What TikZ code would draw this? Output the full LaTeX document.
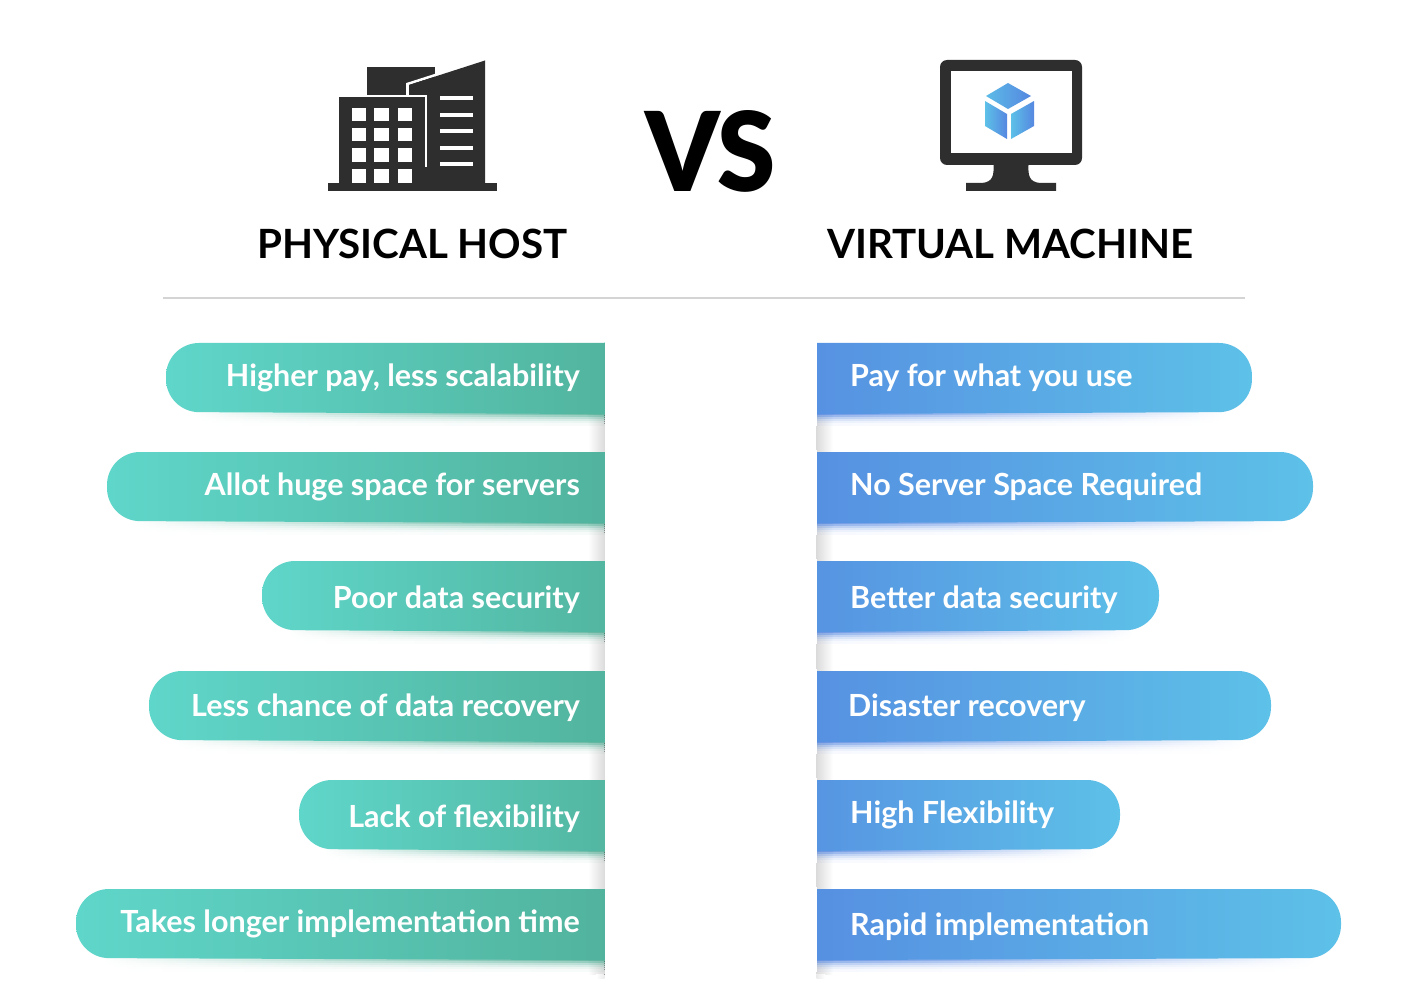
\documentclass[tikz,border=0pt]{standalone}
\usepackage{fontspec}
\setmainfont{Lato}
\newfontfamily\vsfont{Lato Black}
\definecolor{tealL}{HTML}{5FD6CA}
\definecolor{tealR}{HTML}{4FAD95}
\definecolor{blueL}{HTML}{5587E0}
\definecolor{blueR}{HTML}{5DC1E8}
\definecolor{icon}{HTML}{2E2E2E}
\colorlet{sidegray}{black!14}
\tikzset{
  barL/.style={left color=tealL,right color=tealR,draw=none},
  barR/.style={left color=blueL,right color=blueR,draw=none},
  barlabel/.style={text=white,font=\fontsize{30.5}{36}\selectfont\bfseries,inner sep=0pt},
  title/.style={text=black,font=\fontsize{40.3}{48}\selectfont\bfseries,inner sep=0pt},
  win/.style={fill=white,draw=none},
}
% #1 left x, #2 top y, #3 name, #4 label, #5 label baseline y
\newcommand{\lside}[1]{\fill[left color=white,right color=sidegray] (588,#1+82) rectangle (604.5,#1+109);}
\newcommand{\rside}[1]{\fill[right color=white,left color=sidegray] (816.5,#1+82) rectangle (833,#1+109);}
\newcommand{\lbar}[5]{%
  \foreach \oo/\kk in {68/95,70/85,72/62,74/40,76/24,78/12,80/5} {
    \fill[left color=white,right color=tealR!\kk!white] (#1+25,#2+\oo) rectangle (604.5,#2+\oo+2.2);
    \fill[left color=tealR!\kk!white,right color=tealR!\kk!sidegray] (588,#2+\oo) rectangle (604.5,#2+\oo+2.2);
  }
  \path[barL,rounded corners=33pt] (700,#2) -- (#1,#2) -- (#1,#2+69) -- (700,#2+71.5) -- cycle;
  \fill[white] (604.5,#2-2) rectangle (720,#2+83);
  \node[barlabel,anchor=base east] (#3) at (580,#5) {#4};
}
\newcommand{\rbar}[5]{%
  \foreach \oo/\kk in {68/95,70/85,72/62,74/40,76/24,78/12,80/5} {
    \fill[right color=white,left color=blueL!\kk!white] (816.5,#2+\oo) rectangle (#1-25,#2+\oo+2.2);
    \fill[right color=blueL!\kk!white,left color=blueL!\kk!sidegray] (816.5,#2+\oo) rectangle (833,#2+\oo+2.2);
  }
  \path[barR,rounded corners=33pt] (720,#2) -- (#1,#2) -- (#1,#2+69) -- (720,#2+71.5) -- cycle;
  \fill[white] (700,#2-2) rectangle (816.5,#2+83);
  \node[barlabel,anchor=base west] (#3) at (850,#5) {#4};
}
\begin{document}
\begin{tikzpicture}[x=1pt,y=-1pt]
\useasboundingbox (0,0) rectangle (1417,1000);
\fill[white] (0,0) rectangle (1417,1000);
% building
\fill[icon] (367,67) rectangle (435,95);
\draw[white,line width=2.6pt] (407.5,97) -- (407.5,84) -- (445,72);
\fill[icon] (409,96) -- (409,85) -- (485,60.5) -- (485,183) -- (425,183) -- (425,96) -- cycle;
\fill[icon] (339,97) rectangle (425,183);
\fill[icon] (328,183) rectangle (497,191);
\draw[white,line width=2.4pt] (339,96) -- (426.2,96) -- (426.2,167);
\foreach \xa/\xb in {352/366,374/389,398/412}
  \foreach \ya/\yb in {108/121,128/141,148/162,169/183}
    \fill[win] (\xa,\ya) rectangle (\xb,\yb);
\foreach \yy in {98,115,131,148,164}
  \fill[win] (440,\yy-2) rectangle (473,\yy+2);
% VS
\node[inner sep=0pt,anchor=base,text=black,font=\fontsize{110}{120}\selectfont\vsfont,xscale=0.955,transform shape] (vs) at (710.5,192) {VS};
% monitor
\fill[icon,rounded corners=7pt] (940,60) rectangle (1082,165);
\fill[white] (951,71) rectangle (1072,153);
\fill[icon] (993.5,165) .. controls (994,175) and (993,182) .. (982,183) -- (966,183) -- (966,191) -- (1056,191) -- (1056,183) -- (1040,183) .. controls (1029,182) and (1028,175) .. (1028.5,165) -- cycle;
\path[left color=blueR!90!blueL,right color=blueL] (1008,83) -- (1031,96) -- (1008,109) -- (986,96) -- cycle;
\path[left color=blueR,right color=blueL] (985,101) -- (1007,114) -- (1007,139) -- (985,126) -- cycle;
\path[left color=blueR,right color=blueL] (1011,114) -- (1034,101) -- (1034,126) -- (1011,139) -- cycle;
% titles
\node[title,anchor=base] (phys) at (412.5,259) {PHYSICAL HOST};
\node[title,anchor=base] (virt) at (1010.5,259) {VIRTUAL MACHINE};
\draw[black!17,line width=2pt] (163,298) -- (1245,298);
% thin ticks at top of the strip
\draw[tealL!40,line width=0.8pt] (604,342.5) -- (620,342.5);
\draw[blueR!40,line width=0.8pt] (801,342.5) -- (817,342.5);
% side shadows
\foreach \yy in {343,452,561,671,780} {\lside{\yy}\rside{\yy}}
\fill[left color=white,right color=black!14] (588,971) rectangle (604.5,974);
\fill[left color=white,right color=black!8] (596,974) rectangle (604.5,978);
\fill[right color=white,left color=black!14] (816.5,971) rectangle (833,974);
\fill[right color=white,left color=black!8] (816.5,974) rectangle (825,978);
% bars
\lbar{166}{343}{l1}{Higher pay, less scalability}{387}
\lbar{107}{452}{l2}{Allot huge space for servers}{495}
\lbar{262}{561}{l3}{Poor data security}{608}
\lbar{149}{671}{l4}{Less chance of data recovery}{716}
\lbar{299}{780}{l5}{Lack of flexibility}{827}
\lbar{76}{889}{l6}{Takes longer implementation time}{932}
\rbar{1252}{343}{r1}{\addfontfeature{LetterSpace=-0.4}Pay for what you use}{387}
\rbar{1313}{452}{r2}{No Server Space Required}{495}
\rbar{1159}{561}{r3}{Better data security}{608}
\rbar{1271}{671}{r4}{\kern-2pt Disaster recovery}{716}
\rbar{1120}{780}{r5}{High Flexibility}{823}
\rbar{1341}{889}{r6}{Rapid implementation}{935}
\end{tikzpicture}
\end{document}
